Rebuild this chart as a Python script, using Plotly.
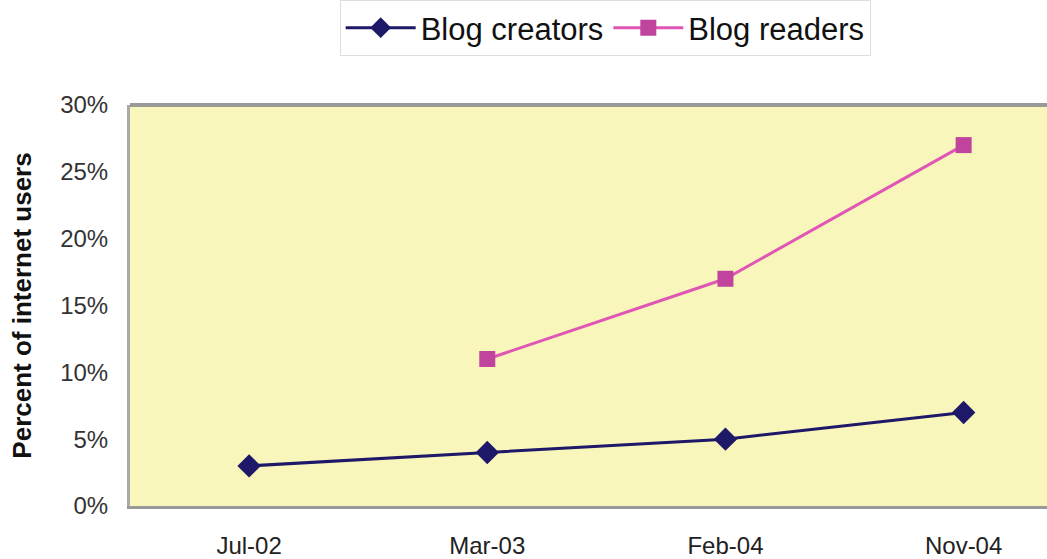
import plotly.graph_objects as go

categories = ["Jul-02", "Mar-03", "Feb-04", "Nov-04"]
creators = [0.03, 0.04, 0.05, 0.07]
readers = [None, 0.11, 0.17, 0.27]
y_ticks = [0, 0.05, 0.10, 0.15, 0.20, 0.25, 0.30]

fig = go.Figure()
fig.add_trace(go.Scatter(
    x=categories, y=creators, name="Blog creators", mode="lines+markers",
    line=dict(color="#1E1868", width=3),
    marker=dict(symbol="diamond", size=18, color="#1E1868"),
))
fig.add_trace(go.Scatter(
    x=categories, y=readers, name="Blog readers", mode="lines+markers",
    line=dict(color="#E056B4", width=3),
    marker=dict(symbol="square", size=16, color="#C0449E"),
    connectgaps=False,
))

fig.update_layout(
    width=1047, height=559,
    margin=dict(l=130, r=0, t=105, b=53),
    paper_bgcolor="white",
    plot_bgcolor="#F9F6BC",
    font=dict(family="Liberation Sans, Arial", color="#222"),
    legend=dict(
        orientation="h", xref="container", yref="container",
        x=0.578, xanchor="center", y=1.0, yanchor="top",
        font=dict(size=31, color="#111"),
        bordercolor="#DDDDDD", borderwidth=1, bgcolor="white",
        itemwidth=70,
    ),
    xaxis=dict(
        type="category", categoryorder="array", categoryarray=categories,
        range=[-0.5, 3.35], showgrid=False, zeroline=False,
        showline=True, linecolor="#999", linewidth=3,
        tickfont=dict(size=24, color="#222"), ticks="", ticklabelstandoff=16,
    ),
    yaxis=dict(
        range=[0, 0.30], tickvals=y_ticks, tickformat=".0%",
        showgrid=False, zeroline=False,
        showline=True, linecolor="#AAA", linewidth=3, mirror=False,
        tickfont=dict(size=24, color="#333"), ticks="", ticklabelstandoff=14,
        title=dict(text="<b>Percent of internet users</b>", font=dict(size=26, color="#111"), standoff=22),
    ),
    shapes=[dict(type="line", xref="paper", yref="paper", x0=0, x1=1, y0=1, y1=1,
                 line=dict(color="#999", width=4))],
)

fig.write_html("out.html", config={"displayModeBar": False},
               post_script="document.body.style.margin='0px';")
